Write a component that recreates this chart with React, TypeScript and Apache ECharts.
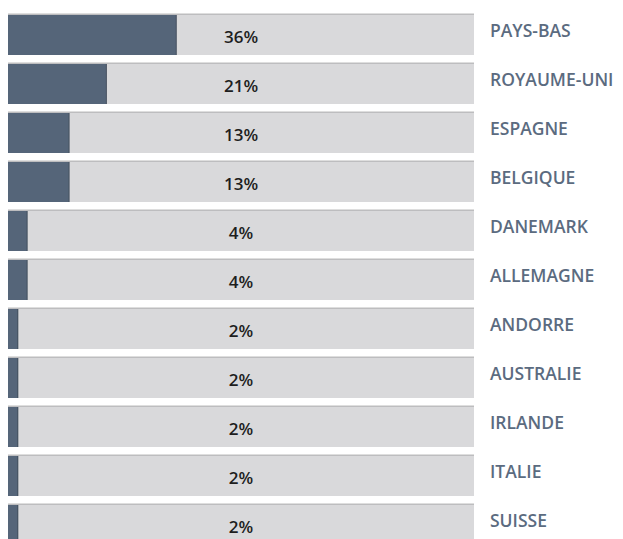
import React, { useEffect, useRef } from "react";
import * as echarts from "echarts";

const countries = [
  "PAYS-BAS",
  "ROYAUME-UNI",
  "ESPAGNE",
  "BELGIQUE",
  "DANEMARK",
  "ALLEMAGNE",
  "ANDORRE",
  "AUSTRALIE",
  "IRLANDE",
  "ITALIE",
  "SUISSE",
];
const shares = [36, 21, 13, 13, 4, 4, 2, 2, 2, 2, 2];
const trackMax = 100;

export default function App() {
  const ref = useRef<HTMLDivElement>(null);
  useEffect(() => {
    if (!ref.current) return;
    const chart = echarts.init(ref.current, undefined, { renderer: "svg" });
    chart.setOption({
      animation: false,
      backgroundColor: "#ffffff",
      grid: { left: 8, top: 10.5, width: 466, height: 539, containLabel: false },
      xAxis: {
        type: "value",
        min: 0,
        max: trackMax,
        show: false,
      },
      yAxis: {
        type: "category",
        data: countries,
        inverse: true,
        show: false,
      },
      series: [
        {
          type: "bar",
          data: countries.map(() => trackMax),
          barWidth: 40,
          barGap: "-100%",
          silent: true,
          itemStyle: {
            color: "#d9d9db",
            shadowColor: "#bdbdbf",
            shadowBlur: 0,
            shadowOffsetY: -1.5,
          },
          label: {
            show: true,
            position: "inside",
            formatter: (p: any) => `${shares[p.dataIndex]}%`,
            color: "#1e1e1e",
            fontFamily: "Open Sans",
            fontWeight: 600,
            fontSize: 17,
            offset: [0, 1],
          },
          z: 1,
        },
        {
          type: "bar",
          data: shares,
          barWidth: 40,
          barGap: "-100%",
          itemStyle: {
            color: "#556579",
            shadowColor: "#3f4b5a",
            shadowBlur: 0,
            shadowOffsetX: 1,
          },
          z: 2,
        },
        {
          type: "bar",
          data: countries.map(() => trackMax),
          barWidth: 40,
          barGap: "-100%",
          silent: true,
          itemStyle: { color: "rgba(0,0,0,0)" },
          label: {
            show: true,
            position: "right",
            distance: 16,
            offset: [0, -5],
            formatter: (p: any) => countries[p.dataIndex],
            color: "#5b6b80",
            fontFamily: "Open Sans",
            fontWeight: 600,
            fontSize: 17.5,
          },
          z: 0,
        },
      ],
    });
    return () => chart.dispose();
  }, []);
  return (
    <div
      style={{
        position: "fixed",
        left: 0,
        top: 0,
        width: 623,
        height: 539,
        overflow: "hidden",
        background: "#fff",
      }}
    >
      <div ref={ref} style={{ width: 623, height: 560 }} />
    </div>
  );
}
